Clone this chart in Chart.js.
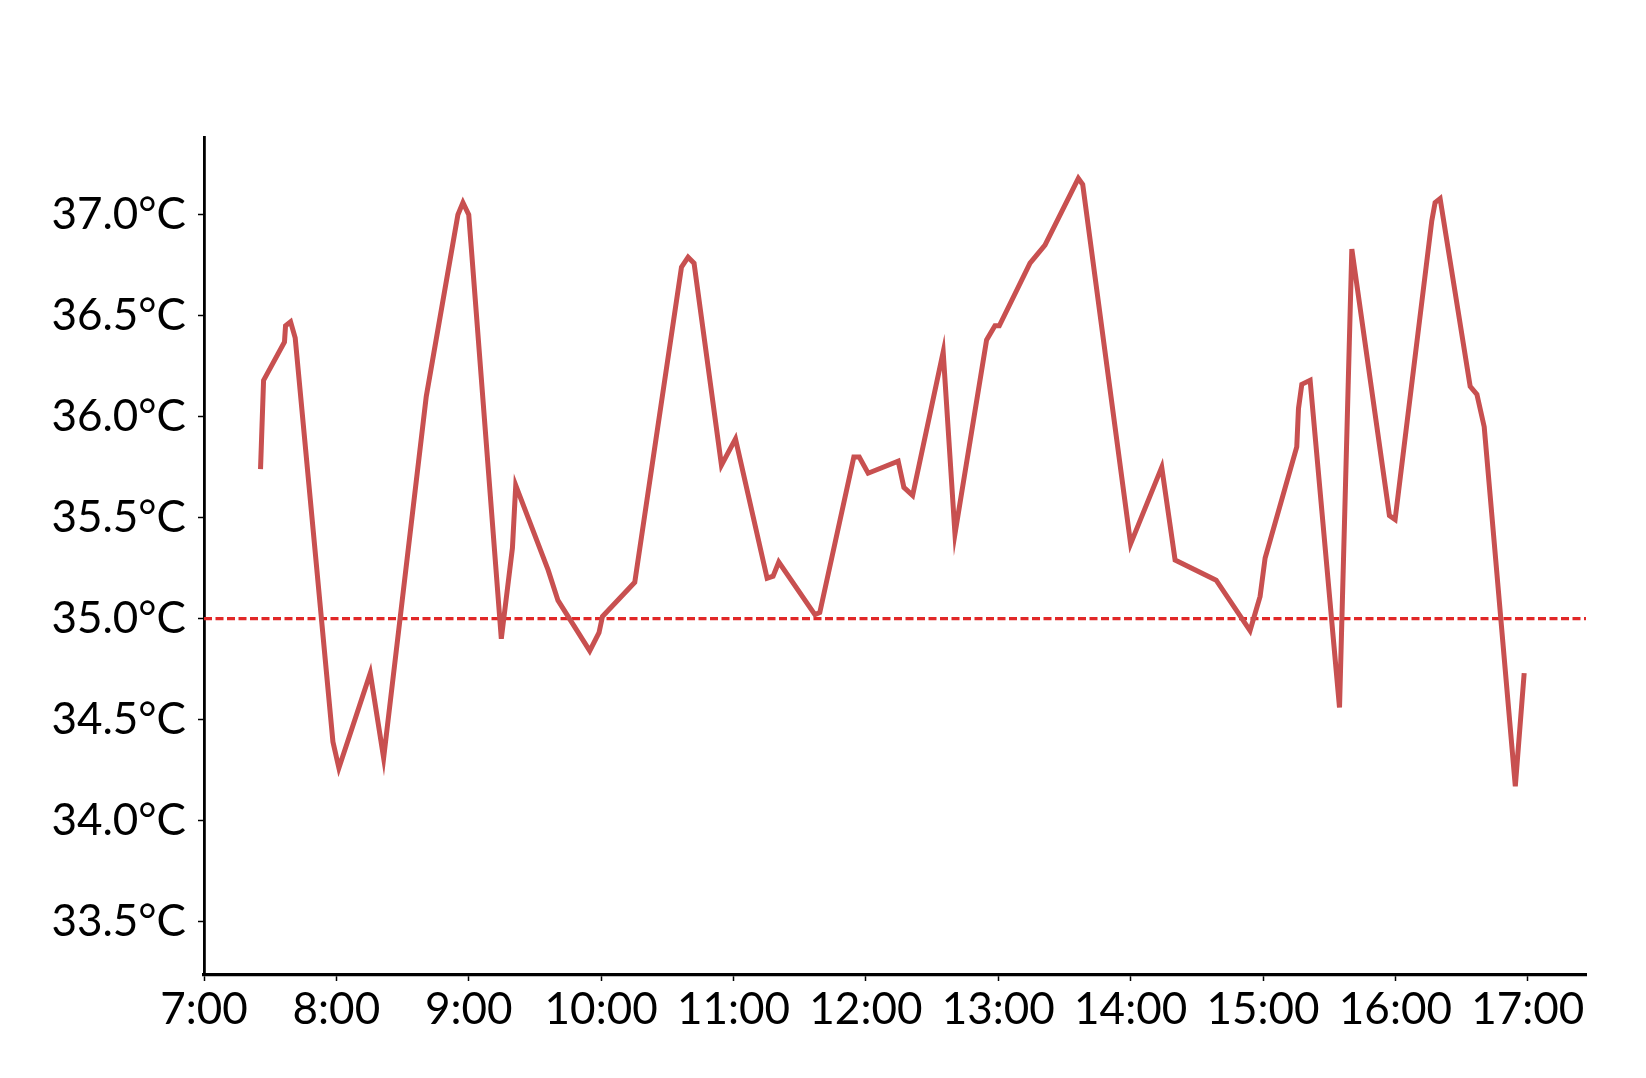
<!DOCTYPE html>
<html><head><meta charset="utf-8">
<script src="https://cdn.jsdelivr.net/npm/chart.js@4/dist/chart.umd.min.js"></script>
<style>html,body{margin:0;padding:0;background:#fff;}#wrap{width:1646px;height:1078px;}</style>
</head><body><div id="wrap"><canvas id="c" width="1646" height="1078"></canvas></div>
<script>
// Time of day in decimal hours
const timeHours = [7.427,7.45,7.608,7.616,7.654,7.689,7.974,8.019,8.256,8.357,8.679,8.918,8.956,9.0,9.246,9.33,9.355,9.60,9.674,9.914,9.984,10.01,10.254,10.607,10.657,10.702,10.909,11.015,11.254,11.299,11.342,11.615,11.652,11.909,11.95,12.017,12.244,12.287,12.353,12.584,12.673,12.912,12.975,13.008,13.24,13.353,13.605,13.638,14.0,14.235,14.336,14.646,14.902,14.978,15.016,15.255,15.268,15.293,15.356,15.578,15.671,15.955,15.998,16.275,16.30,16.338,16.565,16.616,16.671,16.906,16.973];
// Temperature (°C)
const temps = [35.74,36.18,36.37,36.45,36.47,36.39,34.39,34.26,34.73,34.31,36.10,37.00,37.06,37.00,34.90,35.35,35.66,35.24,35.09,34.84,34.93,35.01,35.18,36.74,36.79,36.76,35.76,35.89,35.20,35.21,35.28,35.02,35.03,35.80,35.80,35.72,35.78,35.65,35.61,36.32,35.42,36.38,36.45,36.45,36.76,36.85,37.18,37.15,35.37,35.75,35.29,35.19,34.94,35.11,35.30,35.85,36.04,36.16,36.18,34.56,36.83,35.51,35.49,36.97,37.06,37.08,36.15,36.11,35.95,34.17,34.73];
const xTickHours = [7,8,9,10,11,12,13,14,15,16,17];
const yTickValues = [33.5,34.0,34.5,35.0,35.5,36.0,36.5,37.0];
const threshold = 35.0;
const xMin = 7, xMax = 17.44, yMin = 33.235, yMax = 37.385;

const lineData = timeHours.map((t,i)=>({x:t,y:temps[i]}));
const threshData = [{x:xMin,y:threshold},{x:xMax,y:threshold}];
const FONT = {family:'Lato', size:44};

new Chart(document.getElementById('c'), {
  type:'line',
  data:{datasets:[
    {data:lineData, borderColor:'rgb(200,80,80)', borderWidth:5, pointRadius:0, tension:0,
     borderJoinStyle:'miter', borderCapStyle:'butt', fill:false},
    {data:threshData, borderColor:'rgb(225,40,40)', borderWidth:3.2, borderDash:[8,3.5], pointRadius:0, fill:false}
  ]},
  options:{
    responsive:false, animation:false, devicePixelRatio:1,
    layout:{padding:{left:0, top:137, right:60, bottom:0}},
    plugins:{legend:{display:false}, tooltip:{enabled:false}},
    scales:{
      x:{type:'linear', min:xMin, max:xMax,
        afterBuildTicks:s=>{s.ticks = xTickHours.map(v=>({value:v}));},
        afterFit:s=>{s.height = 103;},
        border:{display:true,color:'#000',width:3.3},
        grid:{drawOnChartArea:false, drawTicks:true, tickLength:6, tickColor:'#000', tickWidth:1.5},
        ticks:{font:FONT, color:'#000', padding:2, maxRotation:0, autoSkip:false,
          callback:v=>v+':00'}
      },
      y:{type:'linear', min:yMin, max:yMax,
        afterBuildTicks:s=>{s.ticks = yTickValues.map(v=>({value:v}));},
        afterFit:s=>{s.width = 204;},
        border:{display:true,color:'#000',width:2.8},
        grid:{drawOnChartArea:false, drawTicks:true, tickLength:6, tickColor:'#000', tickWidth:1.5},
        ticks:{font:FONT, color:'#000', padding:12, autoSkip:false,
          callback:v=>v.toFixed(1)+'°C'}
      }
    }
  }
});
</script></body></html>
